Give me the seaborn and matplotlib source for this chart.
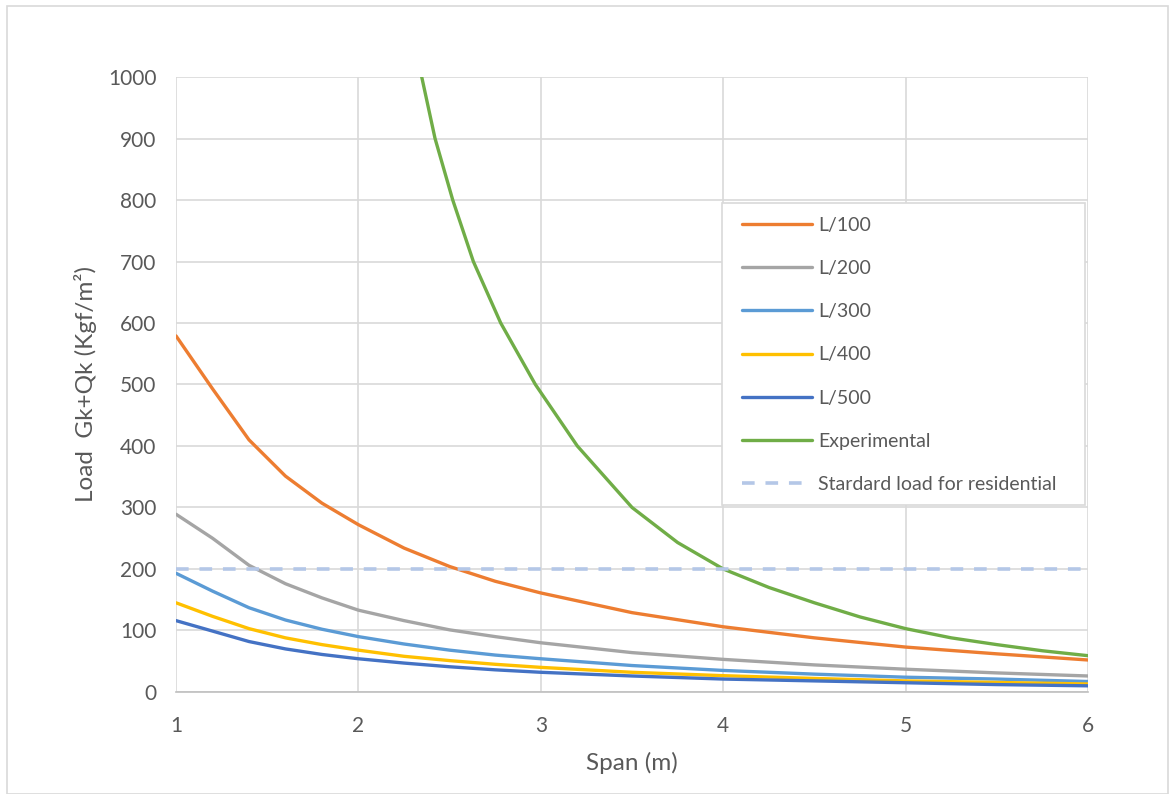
import numpy as np
import pandas as pd
import seaborn as sns
import matplotlib.pyplot as plt
from matplotlib.patches import Rectangle

sns.set_style("white")
plt.rcParams['font.family'] = ['Lato', 'DejaVu Sans']

# ------------------------------------------------------------
# DATA
# ------------------------------------------------------------
span = [1.0, 1.2, 1.4, 1.6, 1.8, 2.0, 2.25, 2.5, 2.75, 3.0, 3.5, 4.0, 4.5, 5.0, 5.5, 6.0]
l100 = [579, 493, 410, 351, 307, 272, 234, 204, 180, 161, 129, 106, 88, 73, 62, 52]
l200 = [289, 250, 206, 176, 153, 133, 116, 101, 90, 80, 64, 53, 44, 37, 31, 26]
l300 = [193, 164, 137, 117, 102, 90, 78, 68, 60, 54, 43, 35, 29, 24, 21, 17]
l400 = [145, 123, 103, 88, 77, 68, 58, 51, 45, 40, 32, 26.5, 22, 18, 15.5, 13]
l500 = [116, 99, 82, 70, 61, 54, 47, 41, 36, 32, 26, 21, 18, 15, 12, 10]

exp_span = [2.347, 2.42, 2.517, 2.63, 2.78, 2.97, 3.2, 3.5, 3.75, 4.0,
            4.25, 4.5, 4.75, 5.0, 5.25, 5.5, 5.75, 6.0]
experimental = [1000, 900, 800, 700, 600, 500, 400, 300, 243, 200,
                170, 145, 122, 103, 88, 77, 67, 59]

std_span = [1, 6]
std_load = [200, 200]

series = {
    "L/100": (span, l100, "#ED7D31"),
    "L/200": (span, l200, "#A5A5A5"),
    "L/300": (span, l300, "#5B9BD5"),
    "L/400": (span, l400, "#FFC000"),
    "L/500": (span, l500, "#4472C4"),
    "Experimental": (exp_span, experimental, "#70AD47"),
}

# ------------------------------------------------------------
# PLOT
# ------------------------------------------------------------
fig = plt.figure(figsize=(11.76, 7.94), dpi=100)
ax = fig.add_axes([0.1497, 0.1285, 0.7755, 0.7745])

for name, (xs, ys, col) in series.items():
    sns.lineplot(x=xs, y=ys, ax=ax, color=col, linewidth=2.4, label=name,
                 solid_joinstyle="round", solid_capstyle="round")

sns.lineplot(x=std_span, y=std_load, ax=ax, color="#B4C7E7", linewidth=2.6,
             linestyle=(0, (3.5, 3)), label="Stardard load for residential")

ax.set_xlim(1, 6)
ax.set_ylim(0, 1000)
ax.set_xticks(range(1, 7))
ax.set_yticks(range(0, 1001, 100))
ax.grid(True, color="#D9D9D9", linewidth=1.2)
ax.set_axisbelow(True)
for side in ["top", "right", "left"]:
    ax.spines[side].set_visible(False)
ax.spines["bottom"].set_color("#BFBFBF")
ax.spines["bottom"].set_linewidth(1.2)
ax.tick_params(axis="both", length=0, labelsize=15, labelcolor="#595959")
ax.tick_params(axis="x", pad=17)
ax.tick_params(axis="y", pad=14)

ax.set_xlabel("Span (m)", fontsize=17.5, color="#595959", labelpad=12)
ax.set_ylabel("Load  Gk+Qk (Kgf/m²)", fontsize=17.5, color="#595959", labelpad=8)

# legend box drawn separately so the entries can sit where the reference has them
ax.add_patch(Rectangle((0.5987, 0.304), 0.398, 0.491, transform=ax.transAxes,
                       facecolor="white", edgecolor="#D9D9D9", linewidth=1.2,
                       zorder=4, clip_on=False))
leg = ax.legend(loc="upper left", bbox_to_anchor=(0.6206, 0.773), fontsize=14,
                frameon=False, handlelength=3.6, handletextpad=0.31,
                labelspacing=1.35, borderpad=0, borderaxespad=0)
leg.set_zorder(5)
for t in leg.get_texts():
    t.set_color("#595959")

# outer chart border
fig.patches.append(Rectangle((7 / 1176, 0.0), 1161 / 1176, 1 - 6 / 794,
                             transform=fig.transFigure, fill=False,
                             edgecolor="#D9D9D9", linewidth=1.2))

fig.savefig("out.png", dpi=100)
